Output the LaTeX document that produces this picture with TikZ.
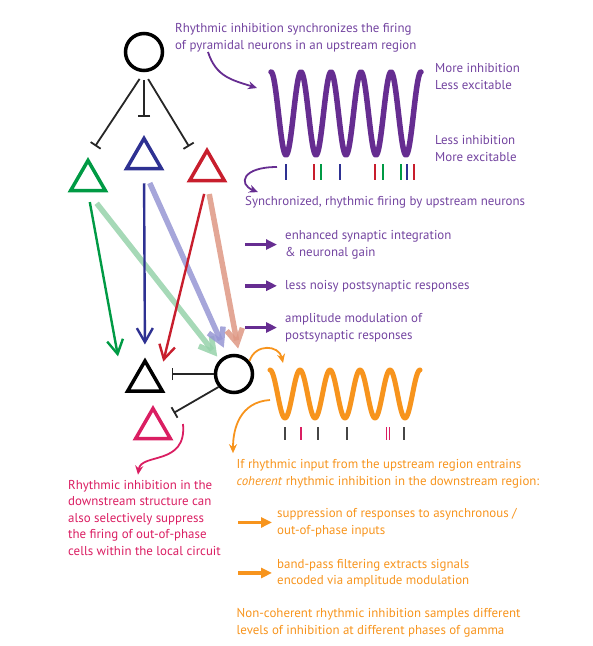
\documentclass[tikz,border=0pt]{standalone}
\usepackage{fontspec}
\setmainfont{PT Sans}
\usepackage{tikz}
\usetikzlibrary{shapes.geometric, positioning, arrows.meta, calc}
\definecolor{GPurple}{RGB}{102,45,145}
\definecolor{GPurpleTxt}{RGB}{115,68,160}
\definecolor{GOrange}{RGB}{247,148,29}
\definecolor{GPink}{RGB}{218,30,98}
\definecolor{GGreen}{RGB}{0,154,68}
\definecolor{GBlue}{RGB}{46,49,146}
\definecolor{GRed}{RGB}{200,30,45}
\definecolor{GLtGreen}{RGB}{150,210,170}
\definecolor{GLtBlue}{RGB}{150,150,212}
\definecolor{GSalmon}{RGB}{222,152,132}
\definecolor{GGray}{RGB}{70,70,70}

\begin{document}
\begin{tikzpicture}[x=1pt, y=-1pt,
    soma/.style={circle, draw=black, line width=3.5pt, minimum size=37pt, inner sep=0pt},
    pyr/.style={regular polygon, regular polygon sides=3, line width=3.5pt,
                minimum size=40pt, inner sep=0pt},
    inh/.style={-{Bar[width=12pt]}, line width=1.8pt, black!85},
    exc/.style={-{Straight Barb[length=14pt, width=16pt]}, line width=2.4pt},
    fat/.style={-{Straight Barb[length=14pt, width=16pt]}, line width=5.5pt, opacity=0.85},
    txt/.style={anchor=base west, align=left, inner sep=0pt,
                font=\fontsize{12.9}{16.5}\selectfont},
    parr/.style={-{Triangle[length=11pt, width=10pt]}, line width=3.5pt, GPurple},
    oarr/.style={-{Triangle[length=11pt, width=10pt]}, line width=3.5pt, GOrange},
    curv/.style={-{Stealth[length=9pt, width=8pt]}, line width=1.8pt},
    wave/.style={line width=5.5pt, line cap=round, line join=round},
    spike/.style={line width=1.8pt}
  ]
  \useasboundingbox (0,0) rectangle (593,646);

  % upstream region
  \node[soma] (inup) at (144,52) {};
  \node[pyr, draw=GGreen] (pg) at (88,180.5) {};
  \node[pyr, draw=GBlue] (pb) at (144,158.5) {};
  \node[pyr, draw=GRed] (pr) at (207,170.5) {};
  \draw[inh, shorten <=8pt, shorten >=13pt] (inup.south) -- (pg.corner 1);
  \draw[inh, shorten <=8pt, shorten >=18pt] (inup.south) -- (pb.corner 1);
  \draw[inh, shorten <=8pt, shorten >=18pt] (inup.south) -- (pr.north west);

  % downstream region
  \node[soma] (indn) at (234,374) {};
  \node[pyr, draw=black] (pk) at (145,381) {};
  \node[pyr, draw=GPink] (pp) at (153,428.5) {};
  \draw[inh, shorten >=13pt] (indn.west) -- (indn.west -| pk.east);
  \draw[inh, shorten >=14pt] (indn.220) -- (pp.north east);

  % feedforward excitation
  \draw[fat, GLtGreen, shorten <=14pt, shorten >=4pt] (pg.south) -- (indn.north west);
  \draw[fat, GLtBlue, shorten <=14pt, shorten >=8pt] (pb.south) -- (indn.110);
  \draw[fat, GSalmon, shorten <=12pt, shorten >=6pt] (pr.south) -- (indn.75);
  \draw[exc, GGreen, shorten <=10pt, shorten >=37pt] (pg.south) -- (pk.corner 2);
  \draw[exc, GBlue, shorten <=13pt, shorten >=13pt] (pb.south) -- (pk.north);
  \draw[exc, GRed, shorten <=12pt, shorten >=20pt] (pr.south) -- (pk.east);

  % upstream gamma
  \draw[wave, GPurple] plot[domain=0:1800, samples=241] ({271+\x/12}, {113.5-41.5*cos(\x)});
  \foreach \sx/\sc in {286/GBlue, 314/GRed, 321/GGreen, 340/GBlue, 375/GRed,
                       383/GGreen, 401/GGreen, 407/GBlue, 414/GRed}
    \draw[spike, \sc] (\sx,164) -- (\sx,180);
  \node[txt, GPurpleTxt] (ttl) at (175,49)
        {Rhythmic inhibition synchronizes the firing\\of pyramidal neurons in an upstream region};
  \node[txt, GPurpleTxt] (hiinh) at (435,89) {More inhibition\\Less excitable};
  \node[txt, GPurpleTxt] (loinh) at (435,161) {Less inhibition\\More excitable};
  \node[txt, GPurpleTxt] (sync) at (245,205.5) {Synchronized, rhythmic firing by upstream neurons};
  \node[txt, GPurpleTxt] (gain) at (285,256) {enhanced synaptic integration\\\& neuronal gain};
  \node[txt, GPurpleTxt] (noise) at (285,289) {less noisy postsynaptic responses};
  \node[txt, GPurpleTxt] (ampl) at (285,339) {amplitude modulation of\\postsynaptic responses};
  \coordinate (upin) at (257,88);
  \coordinate (spfrom) at (277,167);
  \draw[curv, GPurple] ([xshift=33pt]ttl.south west) .. controls +(8,25) and +(-25,-8) .. (upin);
  \draw[curv, GPurple] (spfrom) .. controls +(-35,0) and +(-20,-8) .. ([xshift=13pt,yshift=4pt]sync.north west);
  \foreach \t in {gain, noise, ampl}
    \draw[parr, shorten >=8pt] ([xshift=-40pt]\t.west) -- (\t.west);

  % downstream gamma
  \draw[wave, GOrange, line width=5pt] plot[domain=0:1800, samples=241] ({270+\x/12}, {394-24*cos(\x)});
  \foreach \sx/\sc in {285/GGray, 301/GPink, 318/GGray, 347/GGray, 386.5/GPink,
                       389.5/GPink, 404/GGray}
    \draw[spike, \sc] (\sx,427) -- (\sx,440);
  \node[txt, GOrange] (coh) at (236.5,485)
        {If rhythmic input from the upstream region entrains\\\textit{coherent} rhythmic inhibition in the downstream region:};
  \node[txt, GOrange] (supp) at (277,534) {suppression of responses to asynchronous /\\out-of-phase inputs};
  \node[txt, GOrange] (band) at (277,584.5) {band-pass filtering extracts signals\\encoded via amplitude modulation};
  \node[txt, GOrange] (noncoh) at (236.5,634)
        {Non-coherent rhythmic inhibition samples different\\levels of inhibition at different phases of gamma};
  \coordinate (dnin) at (283,363);
  \coordinate (dnfrom) at (270,400);
  \draw[curv, GOrange] (indn.40) .. controls +(6,-18) and +(-4,-18) .. (dnin);
  \draw[curv, GOrange] (dnfrom) .. controls +(-30,2) and +(0,-25) .. ([xshift=-3.5pt,yshift=6pt]coh.north west);
  \foreach \t in {supp, band}
    \draw[oarr, shorten >=5pt] ([xshift=-39pt]\t.west) -- (\t.west);

  % local circuit
  \node[txt, GPink] (local) at (68,555)
        {Rhythmic inhibition in the\\downstream structure can\\also selectively suppress\\the firing of out-of-phase\\cells within the local circuit};
  \coordinate (pkfrom) at (183,424);
  \draw[curv, GPink] (pkfrom) .. controls +(4,42) and +(3,-22) .. ([xshift=70pt,yshift=5pt]local.north west);
\end{tikzpicture}
\end{document}
